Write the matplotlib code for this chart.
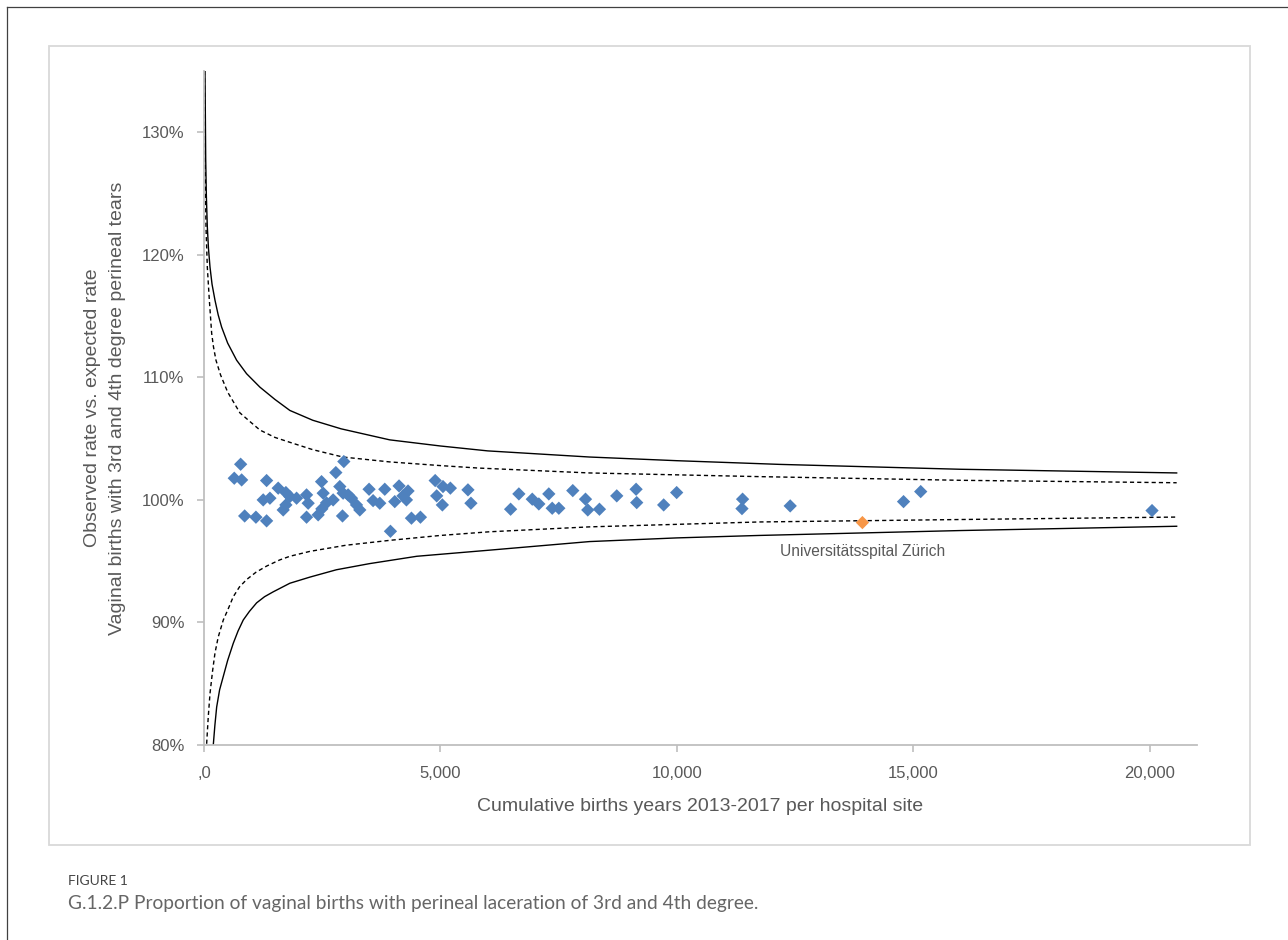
import matplotlib
matplotlib.use("Agg")
import matplotlib.pyplot as plt
from matplotlib.lines import Line2D
from matplotlib.patches import Rectangle

# hospital sites: cumulative births 2013-2017 and observed/expected ratio (%)
births = [775, 640, 796, 860, 1098, 1324, 1324, 1569, 1732, 1252, 1394, 1675, 1732,
          1958, 2169, 2169, 2414, 2486, 2788, 2957, 2929, 2203, 1816, 2492,
          2520, 2591, 2731, 2872, 2942, 3048, 3119, 3225, 3295,
          3491, 3576, 3717, 3823, 4125, 4034, 4209, 4315, 4281, 4387, 4577, 3943,
          4889, 5054, 5210, 4921, 5041, 5582, 5645,
          6484, 6659, 6942, 7081, 7292, 7364, 7504, 7799, 8068, 8116, 8363, 8729,
          9138, 9151, 9721, 9996, 11390, 11377, 12397, 14794, 15157, 20049]
ratio = [102.91, 101.77, 101.63, 98.69, 98.59, 98.29, 101.58, 100.96, 100.60, 100.0, 100.14, 99.18, 99.59,
         100.14, 100.41, 98.59, 98.78, 101.49, 102.23, 103.13, 98.69, 99.73, 100.27, 99.27,
         100.55, 99.76, 100.0, 101.09, 100.55, 100.41, 100.14, 99.59, 99.18,
         100.87, 99.94, 99.73, 100.87, 101.14, 99.86, 100.33, 100.73, 100.0, 98.51, 98.59, 97.44,
         101.58, 101.09, 100.96, 100.33, 99.59, 100.82, 99.73,
         99.24, 100.49, 100.06, 99.67, 100.49, 99.32, 99.32, 100.76, 100.06, 99.18, 99.24, 100.33,
         100.87, 99.78, 99.59, 100.60, 100.06, 99.29, 99.51, 99.86, 100.68, 99.13]

highlight_name = "Universitätsspital Zürich"
highlight_births = 13924
highlight_ratio = 98.15

# control limits
upper_solid_n = [21, 36, 50, 70, 95, 127, 170, 232, 300, 373, 500, 690, 900, 1183, 1500, 1816, 2300,
                 2900, 3928, 5000, 6000, 8152, 10000, 12165, 16000, 20570]
upper_solid = [135, 127.8, 124.8, 122.3, 120.5, 119.0, 117.6, 116.3, 115.1, 114.1, 112.8, 111.4, 110.3,
               109.2, 108.2, 107.3, 106.5, 105.8, 104.9, 104.4, 104.0, 103.5, 103.2, 102.9, 102.5, 102.2]
upper_dash_n = [10, 21, 42, 70, 113, 162, 200, 253, 350, 500, 760, 1000, 1183, 1500, 1816, 2300, 2935,
                3928, 5000, 5800, 8152, 11740, 16000, 20570]
upper_dash = [135, 127.8, 122.3, 119.0, 116.3, 113.6, 112.5, 111.4, 110.2, 108.8, 107.1, 106.3, 105.7,
              105.1, 104.7, 104.1, 103.5, 103.1, 102.8, 102.6, 102.2, 101.9, 101.6, 101.4]
lower_dash_n = [56, 90, 127, 180, 232, 300, 408, 500, 619, 750, 901, 1100, 1324, 1600, 1816, 2239, 3000,
                3928, 5000, 6040, 8152, 11740, 16000, 20570]
lower_dash = [80.1, 82.3, 84.2, 86.0, 87.5, 88.8, 90.2, 91.0, 92.1, 92.9, 93.5, 94.1, 94.6, 95.1, 95.4,
              95.8, 96.3, 96.7, 97.1, 97.4, 97.8, 98.2, 98.4, 98.6]
lower_solid_n = [190, 230, 268, 330, 408, 500, 619, 720, 830, 960, 1113, 1280, 1464, 1816, 2239, 2800,
                 3500, 4500, 6040, 8152, 10000, 11740, 16000, 20570]
lower_solid = [79.7, 81.6, 83.1, 84.5, 85.6, 86.9, 88.3, 89.3, 90.2, 90.9, 91.6, 92.1, 92.5, 93.2, 93.7,
               94.3, 94.8, 95.4, 95.9, 96.6, 96.9, 97.1, 97.5, 97.85]

x_ticks = [0, 5000, 10000, 15000, 20000]
x_tick_labels = [',0', '5,000', '10,000', '15,000', '20,000']
y_ticks = [80, 90, 100, 110, 120, 130]
y_tick_labels = ['80%', '90%', '100%', '110%', '120%', '130%']

sans = ['Liberation Sans', 'DejaVu Sans']
grey_text = '#595959'
axis_grey = '#BFBFBF'

W, H = 1288, 940
fig = plt.figure(figsize=(W / 100, H / 100), dpi=100)
fig.patch.set_facecolor('white')

# page frame and chart box
fig.add_artist(Line2D([7 / W, 1], [1 - 7 / H, 1 - 7 / H], transform=fig.transFigure, color='#404040', lw=0.9))
fig.add_artist(Line2D([7 / W, 7 / W], [0, 1 - 7 / H], transform=fig.transFigure, color='#404040', lw=0.9))
fig.add_artist(Rectangle((49 / W, 1 - 845 / H), (1250 - 49) / W, (845 - 46) / H, fill=False,
                         ec='#D9D9D9', lw=1.3, transform=fig.transFigure))

ax = fig.add_axes([204 / W, 1 - 745 / H, 993 / W, (745 - 71) / H])

ax.plot(upper_solid_n, upper_solid, color='black', lw=1.0)
ax.plot(lower_solid_n, lower_solid, color='black', lw=1.0)
ax.plot(upper_dash_n, upper_dash, color='black', lw=1.0, ls=(0, (3, 2.2)))
ax.plot(lower_dash_n, lower_dash, color='black', lw=1.0, ls=(0, (3, 2.2)))

ax.scatter(births, ratio, marker='D', s=46, color='#4F81BD', edgecolors='none', zorder=3)
ax.scatter([highlight_births], [highlight_ratio], marker='D', s=46, color='#F79646',
           edgecolors='none', zorder=4)
ax.annotate(highlight_name, xy=(highlight_births, highlight_ratio), xytext=(0, -21),
            textcoords='offset points', ha='center', va='center', fontsize=11.2,
            family=sans, color=grey_text)

ax.set_xlim(0, 21000)
ax.set_ylim(80, 135)
ax.set_xticks(x_ticks, x_tick_labels)
ax.set_yticks(y_ticks, y_tick_labels)

for s in ['top', 'right']:
    ax.spines[s].set_visible(False)
for s in ['left', 'bottom']:
    ax.spines[s].set_color(axis_grey)
    ax.spines[s].set_linewidth(1.3)

ax.tick_params(axis='both', color=axis_grey, width=1.2, length=5, labelcolor=grey_text, labelsize=12)
ax.tick_params(axis='y', pad=9)
ax.tick_params(axis='x', pad=10)
for lab in ax.get_xticklabels() + ax.get_yticklabels():
    lab.set_family(sans)

ax.set_xlabel('Cumulative births years 2013-2017 per hospital site', fontsize=14, family=sans,
              color=grey_text)
ax.xaxis.set_label_coords(0.5, -0.078)
fig.text(105 / W, 1 - 408 / H,
         'Observed rate vs. expected rate\nVaginal births with 3rd and 4th degree perineal tears',
         rotation=90, ha='center', va='center', fontsize=14, family=sans, color=grey_text,
         linespacing=1.55)

# caption
fig.text(68 / W, 1 - 881 / H, 'FIGURE 1', fontsize=10, family=['Lato', 'DejaVu Sans'],
         color='#444444', va='center', ha='left')
fig.text(68 / W, 1 - 904 / H,
         'G.1.2.P Proportion of vaginal births with perineal laceration of 3rd and 4th degree.',
         fontsize=13.8, family=['Lato', 'DejaVu Sans'], color='#666666', va='center', ha='left')

fig.savefig('out.png', dpi=100, facecolor='white')
